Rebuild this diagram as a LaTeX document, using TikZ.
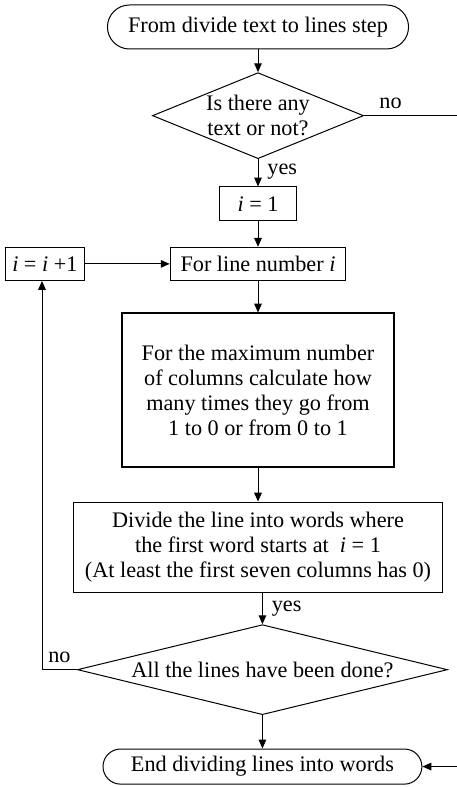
\documentclass[tikz,border=0pt]{standalone}
\usepackage{fontspec}
\setmainfont{Liberation Serif}
\usetikzlibrary{arrows.meta,positioning,shapes.geometric}
\tikzset{
  box/.style    = {rectangle, draw, line width=0.45pt, align=center,
                   font=\fontsize{10}{11.25}\selectfont, inner sep=3pt},
  bigbox/.style = {box, line width=0.9pt},
  term/.style   = {box, rounded corners=7.9pt},
  dec/.style    = {diamond, draw, line width=0.45pt, align=center,
                   font=\fontsize{10}{11.25}\selectfont, inner sep=0pt},
  flow/.style   = {-{Triangle[length=4pt,width=3.4pt]}, line width=0.45pt},
  lbl/.style    = {font=\fontsize{10}{11.25}\selectfont, inner sep=1pt},
}

\begin{document}
\begin{tikzpicture}[x=0.45pt, y=-0.45pt]
    \useasboundingbox (0,0) rectangle (456,787);
    \node[term, rounded corners=9.9pt, minimum width=135.5pt, minimum height=19.8pt] (start) at (258,27)
      {From divide text to lines step};
    \node[dec, below=10.2pt of start, minimum width=95pt, minimum height=38.7pt,
          shape aspect=2.45] (anytext) {Is there any\\text or not?};
    \node[box, below=12.3pt of anytext, minimum width=35pt, minimum height=15.3pt] (ione)
      {\textit{i} = 1};
    \node[box, below=11.4pt of ione, minimum width=79pt, minimum height=14.9pt] (line)
      {For line number \textit{i}};
    \node[box, left=38.3pt of line, minimum width=35pt, minimum height=14.9pt] (inc)
      {\textit{i} = \textit{i} +1};
    \node[bigbox, below=14.2pt of line, minimum width=122pt, minimum height=68.9pt] (count)
      {For the maximum number\\of columns calculate how\\many times they go from\\1 to 0 or from 0 to 1};
    \node[box, below=15.3pt of count, minimum width=166pt, minimum height=40.5pt] (divide)
      {Divide the line into words where\\the first word starts at~ \textit{i} = 1\\(At least the first seven columns has 0)};
    \node[dec, below=14.2pt of divide, xshift=2pt, minimum width=166.5pt, minimum height=40.5pt,
          shape aspect=4.1] (alldone) {All the lines have been done?};
    \node[term, below=15pt of alldone, minimum width=143.5pt, minimum height=15.8pt] (end)
      {End dividing lines into words};
    \coordinate (rgt) at (462,115);
    \coordinate (lft) at (42,672);

    \draw[flow] (start) -- (anytext);
    \draw[flow] (anytext) -- node[lbl, right=3pt, pos=0.45]{yes} (ione);
    \draw[flow] (ione) -- (line);
    \draw[flow] (inc) -- (line);
    \draw[flow] (line) -- (count);
    \draw[flow] (count) -- (divide);
    \draw[flow] (divide.south -| alldone.north) -- node[lbl, right=3pt, pos=0.5]{yes} (alldone);
    \draw[flow] (alldone) -- (end);
    \draw[flow] (alldone.west) -- node[lbl, above=2pt, pos=0.5]{no} (alldone.west -| lft)
      -- (inc.south -| lft);
    \draw[flow] (anytext.east) -- node[lbl, above=2pt, pos=0.27]{no} (anytext.east -| rgt)
      -- (end.east -| rgt) -- (end.east);
\end{tikzpicture}
\end{document}
